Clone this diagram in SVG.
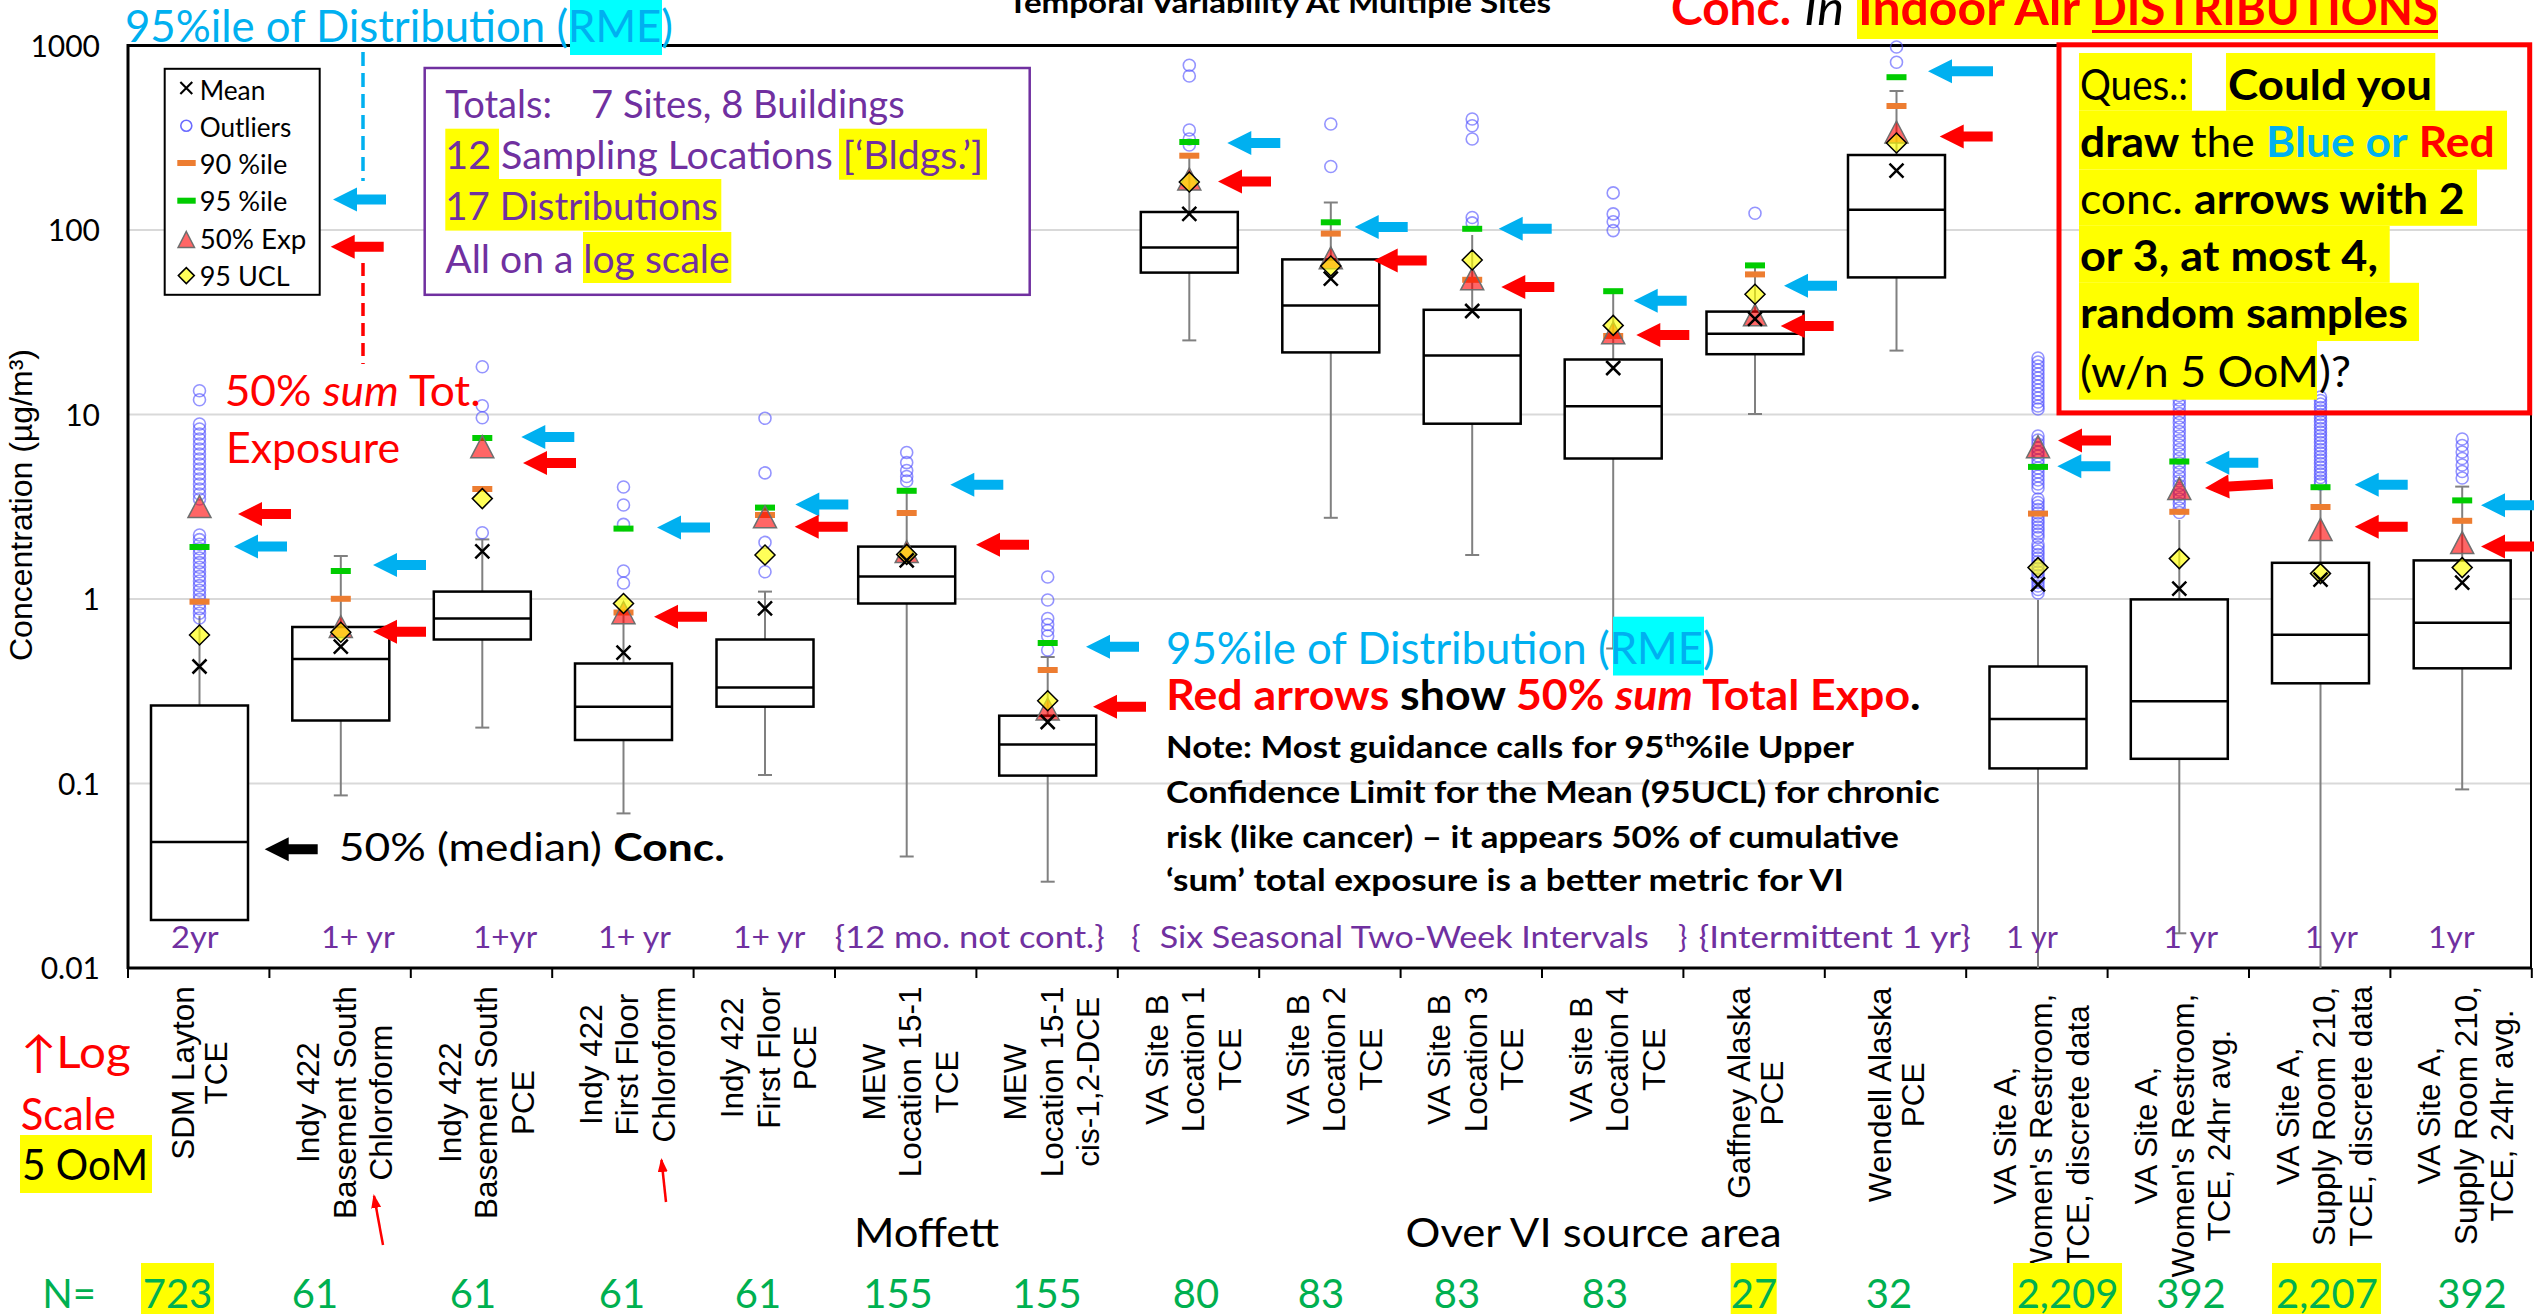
<svg xmlns="http://www.w3.org/2000/svg" width="2534" height="1314" viewBox="0 0 2534 1314">
<style>
.t{font-family:Lato,"Liberation Sans",Arial,sans-serif}
.a{font-family:"Liberation Sans",Arial,sans-serif}
.bx{fill:#fff;stroke:#000;stroke-width:2.5}
.md{stroke:#000;stroke-width:2.5}
.wh{stroke:#808080;stroke-width:2}
.gr{stroke:#d9d9d9;stroke-width:2}
.hl{fill:#ffff00}
.cy{fill:#00ffff}
.pu{fill:#7030A0}
.rd{fill:#ff0000}
.bl{fill:#00B0F0}
.gn{fill:#00B050}
.k{fill:#000}
.b{font-weight:bold}
.i{font-style:italic}
</style>
<defs>
<circle id="c" r="6" fill="none" stroke="#4d4dff" stroke-opacity="0.6" stroke-width="1.6"/>
<path id="mx" d="M-7,-7L7,7M7,-7L-7,7" stroke="#000" stroke-width="2.5"/>
<rect id="b90" x="-10" y="-3" width="20" height="6" fill="#ED7D31"/>
<rect id="b95" x="-10" y="-3" width="20" height="6" fill="#00CC00"/>
<path id="tr" d="M0,-12L11.5,10L-11.5,10Z" fill="#ff0000" fill-opacity="0.6" stroke="#6e6e6e" stroke-width="1.5"/>
<path id="dm" d="M0,-10L10,0L0,10L-10,0Z" fill="#ffff00" fill-opacity="0.65" stroke="#000" stroke-width="1.5"/>
<path id="ar" d="M0,0L24,-12L24,-5L53,-5L53,5L24,5L24,12Z"/>
<marker id="mh" markerWidth="14" markerHeight="10" refX="12" refY="5" orient="auto" markerUnits="userSpaceOnUse"><path d="M0,0L14,5L0,10Z" fill="#ff0000"/></marker>
</defs>
<rect width="2534" height="1314" fill="#fff"/>

<g id="plot">
<line class="gr" x1="128" y1="230" x2="2532" y2="230"/>
<line class="gr" x1="128" y1="414.5" x2="2532" y2="414.5"/>
<line class="gr" x1="128" y1="599" x2="2532" y2="599"/>
<line class="gr" x1="128" y1="783.5" x2="2532" y2="783.5"/>
<rect x="128" y="45.5" width="2403" height="922.5" fill="none" stroke="#000" stroke-width="2"/>
<line x1="128" y1="45.5" x2="2532" y2="45.5" stroke="#000" stroke-width="3"/>
<line x1="128" y1="44" x2="128" y2="969" stroke="#000" stroke-width="3"/>
<line x1="127" y1="968" x2="2532" y2="968" stroke="#000" stroke-width="3"/>
<path d="M128,968v10M269.4,968v10M410.8,968v10M552.2,968v10M693.6,968v10M835,968v10M976.4,968v10M1117.8,968v10M1259.2,968v10M1400.6,968v10M1542,968v10M1683.4,968v10M1824.8,968v10M1966.2,968v10M2107.6,968v10M2249,968v10M2390.4,968v10M2531.8,968v10" stroke="#000" stroke-width="2"/>
<g class="t" font-size="30" text-anchor="end">
<text x="100" y="56.5">1000</text>
<text x="100" y="241">100</text>
<text x="100" y="425.5">10</text>
<text x="100" y="610">1</text>
<text x="100" y="794.5">0.1</text>
<text x="100" y="979">0.01</text>
</g>
<text class="a" font-size="32" text-anchor="middle" textLength="312" lengthAdjust="spacingAndGlyphs" transform="translate(32,505) rotate(-90)">Concentration (µg/m³)</text>
</g>

<g id="box-0">
<line class="wh" x1="199.5" y1="616" x2="199.5" y2="705.5"/>
<rect class="bx" x="151" y="705.5" width="97" height="214.5"/>
<line class="md" x1="151" y1="842" x2="248" y2="842"/>
<g transform="translate(199.5,0)">
<use href="#c" y="390.7"/><use href="#c" y="399.7"/><use href="#c" y="424"/><use href="#c" y="429"/><use href="#c" y="434"/><use href="#c" y="439"/><use href="#c" y="444"/><use href="#c" y="449"/><use href="#c" y="454"/><use href="#c" y="459"/><use href="#c" y="464"/><use href="#c" y="469"/><use href="#c" y="474"/><use href="#c" y="479"/><use href="#c" y="484"/><use href="#c" y="489"/><use href="#c" y="494"/><use href="#c" y="499"/><use href="#c" y="535"/><use href="#c" y="539.6"/><use href="#c" y="544.2"/><use href="#c" y="548.8"/><use href="#c" y="553.4"/><use href="#c" y="558"/><use href="#c" y="562.6"/><use href="#c" y="567.2"/><use href="#c" y="571.8"/><use href="#c" y="576.4"/><use href="#c" y="581"/><use href="#c" y="585.6"/><use href="#c" y="590.2"/><use href="#c" y="594.8"/><use href="#c" y="599.4"/><use href="#c" y="604"/><use href="#c" y="608.6"/><use href="#c" y="613.2"/><use href="#c" y="618"/>
<use href="#mx" y="666.5"/><use href="#b90" y="601.7"/><use href="#b95" y="547"/><use href="#tr" y="507.6"/><use href="#dm" y="635"/>
</g></g>

<g id="box-1">
<line class="wh" x1="340.8" y1="556" x2="340.8" y2="795.4"/>
<line class="wh" x1="333.8" y1="556" x2="347.8" y2="556"/><line class="wh" x1="333.8" y1="795.4" x2="347.8" y2="795.4"/>
<rect class="bx" x="292.3" y="627" width="97" height="93.5"/>
<line class="md" x1="292.3" y1="659" x2="389.3" y2="659"/>
<g transform="translate(340.8,0)">
<use href="#b90" y="598.8"/><use href="#b95" y="571"/><use href="#tr" y="627.5"/><use href="#dm" y="632.3"/><use href="#mx" y="646.7"/>
</g></g>

<g id="box-2">
<line class="wh" x1="482.3" y1="539.4" x2="482.3" y2="727.6"/>
<line class="wh" x1="475.3" y1="539.4" x2="489.3" y2="539.4"/><line class="wh" x1="475.3" y1="727.6" x2="489.3" y2="727.6"/>
<rect class="bx" x="433.8" y="591.6" width="97" height="47.9"/>
<line class="md" x1="433.8" y1="618.5" x2="530.8" y2="618.5"/>
<g transform="translate(482.3,0)">
<use href="#c" y="366.7"/><use href="#c" y="405.7"/><use href="#c" y="417.7"/><use href="#c" y="532.8"/>
<use href="#mx" y="551.4"/><use href="#b90" y="489"/><use href="#b95" y="438"/><use href="#tr" y="447.7"/><use href="#dm" y="498.6"/>
</g></g>

<g id="box-3">
<line class="wh" x1="623.5" y1="612" x2="623.5" y2="813.4"/>
<line class="wh" x1="616.5" y1="813.4" x2="630.5" y2="813.4"/>
<rect class="bx" x="575" y="663.5" width="97" height="76.5"/>
<line class="md" x1="575" y1="706.7" x2="672" y2="706.7"/>
<g transform="translate(623.5,0)">
<use href="#c" y="487"/><use href="#c" y="505"/><use href="#c" y="524.4"/><use href="#c" y="571"/><use href="#c" y="583"/>
<use href="#mx" y="652.7"/><use href="#b90" y="612.5"/><use href="#b95" y="528.6"/><use href="#tr" y="613.7"/><use href="#dm" y="603.5"/>
</g></g>

<g id="box-4">
<line class="wh" x1="765" y1="591.6" x2="765" y2="775"/>
<line class="wh" x1="758" y1="591.6" x2="772" y2="591.6"/><line class="wh" x1="758" y1="775" x2="772" y2="775"/>
<rect class="bx" x="716.5" y="639.5" width="97" height="67.2"/>
<line class="md" x1="716.5" y1="687.5" x2="813.5" y2="687.5"/>
<g transform="translate(765,0)">
<use href="#c" y="418.3"/><use href="#c" y="472.9"/><use href="#c" y="542.4"/><use href="#c" y="571.8"/>
<use href="#mx" y="608.4"/><use href="#b90" y="515"/><use href="#b95" y="507.6"/><use href="#tr" y="517.8"/><use href="#dm" y="555"/>
</g></g>

<g id="box-5">
<line class="wh" x1="906.7" y1="491" x2="906.7" y2="856.5"/>
<line class="wh" x1="899.7" y1="856.5" x2="913.7" y2="856.5"/>
<rect class="bx" x="858.2" y="546.6" width="97" height="56.9"/>
<line class="md" x1="858.2" y1="576.6" x2="955.2" y2="576.6"/>
<g transform="translate(906.7,0)">
<use href="#c" y="452.5"/><use href="#c" y="462.6"/><use href="#c" y="470.5"/><use href="#c" y="476.5"/><use href="#c" y="481"/>
<use href="#b90" y="513"/><use href="#b95" y="490.8"/><use href="#tr" y="552.6"/><use href="#dm" y="554.4"/><use href="#mx" y="560.4"/>
</g></g>

<g id="box-6">
<line class="wh" x1="1047.7" y1="657" x2="1047.7" y2="881.7"/>
<line class="wh" x1="1040.7" y1="657" x2="1054.7" y2="657"/><line class="wh" x1="1040.7" y1="881.7" x2="1054.7" y2="881.7"/>
<rect class="bx" x="999.2" y="715.7" width="97" height="59.9"/>
<line class="md" x1="999.2" y1="744.4" x2="1096.2" y2="744.4"/>
<g transform="translate(1047.7,0)">
<use href="#c" y="577"/><use href="#c" y="600"/><use href="#c" y="618.5"/><use href="#c" y="624.5"/><use href="#c" y="630.5"/><use href="#c" y="636"/><use href="#c" y="650"/>
<use href="#b90" y="670"/><use href="#b95" y="643"/><use href="#tr" y="710"/><use href="#dm" y="700.7"/><use href="#mx" y="722"/>
</g></g>

<g id="box-7">
<line class="wh" x1="1189.3" y1="156" x2="1189.3" y2="340.4"/>
<line class="wh" x1="1182.3" y1="340.4" x2="1196.3" y2="340.4"/>
<rect class="bx" x="1140.8" y="212" width="97" height="60.6"/>
<line class="md" x1="1140.8" y1="247.4" x2="1237.8" y2="247.4"/>
<g transform="translate(1189.3,0)">
<use href="#c" y="65.2"/><use href="#c" y="76"/><use href="#c" y="130"/><use href="#c" y="139"/><use href="#c" y="145"/>
<use href="#b90" y="155.7"/><use href="#b95" y="142"/><use href="#tr" y="180"/><use href="#dm" y="182"/><use href="#mx" y="213.9"/>
</g></g>

<g id="box-8">
<line class="wh" x1="1330.8" y1="202.5" x2="1330.8" y2="517.8"/>
<line class="wh" x1="1323.8" y1="202.5" x2="1337.8" y2="202.5"/><line class="wh" x1="1323.8" y1="517.8" x2="1337.8" y2="517.8"/>
<rect class="bx" x="1282.3" y="259.4" width="97" height="93"/>
<line class="md" x1="1282.3" y1="305.6" x2="1379.3" y2="305.6"/>
<g transform="translate(1330.8,0)">
<use href="#c" y="124"/><use href="#c" y="166.5"/>
<use href="#b90" y="233.6"/><use href="#b95" y="222.3"/><use href="#tr" y="258.8"/><use href="#dm" y="266"/><use href="#mx" y="278.6"/>
</g></g>

<g id="box-9">
<line class="wh" x1="1472.2" y1="235" x2="1472.2" y2="555"/>
<line class="wh" x1="1465.2" y1="555" x2="1479.2" y2="555"/>
<rect class="bx" x="1423.7" y="309.8" width="97" height="113.9"/>
<line class="md" x1="1423.7" y1="355.4" x2="1520.7" y2="355.4"/>
<g transform="translate(1472.2,0)">
<use href="#c" y="119"/><use href="#c" y="125.7"/><use href="#c" y="139"/><use href="#c" y="217.5"/><use href="#c" y="222.9"/>
<use href="#b90" y="279.8"/><use href="#b95" y="228.8"/><use href="#tr" y="279.8"/><use href="#dm" y="260"/><use href="#mx" y="311"/>
</g></g>

<g id="box-10">
<line class="wh" x1="1613.2" y1="291" x2="1613.2" y2="648.5"/>
<line class="wh" x1="1606.2" y1="648.5" x2="1620.2" y2="648.5"/>
<rect class="bx" x="1564.7" y="359.5" width="97" height="99"/>
<line class="md" x1="1564.7" y1="406.3" x2="1661.7" y2="406.3"/>
<g transform="translate(1613.2,0)">
<use href="#c" y="192.9"/><use href="#c" y="213.9"/><use href="#c" y="221.7"/><use href="#c" y="230.6"/>
<use href="#b90" y="336"/><use href="#b95" y="291.2"/><use href="#tr" y="333.8"/><use href="#dm" y="325.4"/><use href="#mx" y="368"/>
</g></g>

<g id="box-11">
<line class="wh" x1="1755" y1="268" x2="1755" y2="414"/>
<line class="wh" x1="1748" y1="414" x2="1762" y2="414"/>
<rect class="bx" x="1706.5" y="311.6" width="97" height="42.6"/>
<line class="md" x1="1706.5" y1="333.8" x2="1803.5" y2="333.8"/>
<g transform="translate(1755,0)">
<use href="#c" y="213.3"/>
<use href="#b90" y="274.4"/><use href="#b95" y="265.4"/><use href="#tr" y="315.8"/><use href="#dm" y="294.2"/><use href="#mx" y="318.8"/>
</g></g>

<g id="box-12">
<line class="wh" x1="1896.5" y1="91" x2="1896.5" y2="350.6"/>
<line class="wh" x1="1889.5" y1="91" x2="1903.5" y2="91"/><line class="wh" x1="1889.5" y1="350.6" x2="1903.5" y2="350.6"/>
<rect class="bx" x="1848" y="155" width="97" height="122.4"/>
<line class="md" x1="1848" y1="209.7" x2="1945" y2="209.7"/>
<g transform="translate(1896.5,0)">
<use href="#c" y="47"/><use href="#c" y="62.2"/>
<use href="#b90" y="106"/><use href="#b95" y="77.2"/><use href="#tr" y="133"/><use href="#dm" y="143"/><use href="#mx" y="170.7"/>
</g></g>

<g id="box-13">
<line class="wh" x1="2038" y1="600" x2="2038" y2="968"/>
<rect class="bx" x="1989.5" y="666.5" width="97" height="101.9"/>
<line class="md" x1="1989.5" y1="719" x2="2086.5" y2="719"/>
<g transform="translate(2038,0)">
<use href="#c" y="358"/><use href="#c" y="362"/><use href="#c" y="366"/><use href="#c" y="370"/><use href="#c" y="374"/><use href="#c" y="378"/><use href="#c" y="382"/><use href="#c" y="386"/><use href="#c" y="390"/><use href="#c" y="394"/><use href="#c" y="398"/><use href="#c" y="402"/><use href="#c" y="406"/><use href="#c" y="409"/>
<use href="#c" y="436"/><use href="#c" y="440"/><use href="#c" y="444"/><use href="#c" y="448"/><use href="#c" y="452"/><use href="#c" y="456"/><use href="#c" y="460"/><use href="#c" y="464"/><use href="#c" y="468"/><use href="#c" y="472"/><use href="#c" y="476"/><use href="#c" y="480"/><use href="#c" y="484"/><use href="#c" y="488"/>
<use href="#c" y="499"/><use href="#c" y="502.5"/><use href="#c" y="506"/><use href="#c" y="509.5"/><use href="#c" y="513"/><use href="#c" y="516.5"/><use href="#c" y="520"/><use href="#c" y="523.5"/><use href="#c" y="527"/><use href="#c" y="530.5"/><use href="#c" y="534"/><use href="#c" y="537.5"/>
<use href="#c" y="544"/><use href="#c" y="547.5"/><use href="#c" y="551"/><use href="#c" y="554.5"/><use href="#c" y="558"/><use href="#c" y="561.5"/><use href="#c" y="565"/><use href="#c" y="568.5"/><use href="#c" y="572"/><use href="#c" y="575.5"/><use href="#c" y="579"/><use href="#c" y="582.5"/><use href="#c" y="586"/><use href="#c" y="589.5"/><use href="#c" y="593"/>
<use href="#b90" y="513.6"/><use href="#b95" y="466.9"/><use href="#tr" y="447.7"/><use href="#dm" y="567.6"/><use href="#mx" y="584.4"/>
</g></g>

<g id="box-14">
<line class="wh" x1="2179.3" y1="520" x2="2179.3" y2="933.3"/>
<line class="wh" x1="2172.3" y1="933.3" x2="2186.3" y2="933.3"/>
<rect class="bx" x="2130.8" y="599.4" width="97" height="159.4"/>
<line class="md" x1="2130.8" y1="701.3" x2="2227.8" y2="701.3"/>
<g transform="translate(2179.3,0)">
<use href="#c" y="364"/><use href="#c" y="368.5"/><use href="#c" y="373"/><use href="#c" y="377.5"/><use href="#c" y="382"/><use href="#c" y="386.5"/><use href="#c" y="391"/><use href="#c" y="395.5"/><use href="#c" y="400"/><use href="#c" y="404.5"/><use href="#c" y="409"/><use href="#c" y="413.5"/><use href="#c" y="418"/><use href="#c" y="422.5"/><use href="#c" y="427"/><use href="#c" y="431.5"/><use href="#c" y="436"/><use href="#c" y="440.5"/><use href="#c" y="445"/><use href="#c" y="449.5"/><use href="#c" y="454"/><use href="#c" y="458.5"/><use href="#c" y="463"/><use href="#c" y="467.5"/><use href="#c" y="472"/><use href="#c" y="476.5"/><use href="#c" y="481"/><use href="#c" y="485.5"/><use href="#c" y="490"/><use href="#c" y="494.5"/><use href="#c" y="499"/><use href="#c" y="503.5"/><use href="#c" y="508"/><use href="#c" y="512.5"/>
<use href="#b90" y="511.8"/><use href="#b95" y="461.5"/><use href="#tr" y="489.6"/><use href="#dm" y="558.6"/><use href="#mx" y="588.6"/>
</g></g>

<g id="box-15">
<line class="wh" x1="2320.5" y1="490" x2="2320.5" y2="968"/>
<rect class="bx" x="2272" y="562.8" width="97" height="120.5"/>
<line class="md" x1="2272" y1="634.7" x2="2369" y2="634.7"/>
<g transform="translate(2320.5,0)">
<use href="#c" y="397"/><use href="#c" y="400.5"/><use href="#c" y="404"/><use href="#c" y="407.5"/><use href="#c" y="411"/><use href="#c" y="414.5"/><use href="#c" y="418"/><use href="#c" y="421.5"/><use href="#c" y="425"/><use href="#c" y="428.5"/><use href="#c" y="432"/><use href="#c" y="435.5"/><use href="#c" y="439"/><use href="#c" y="442.5"/><use href="#c" y="446"/><use href="#c" y="449.5"/><use href="#c" y="453"/><use href="#c" y="456.5"/><use href="#c" y="460"/><use href="#c" y="463.5"/><use href="#c" y="467"/><use href="#c" y="470.5"/><use href="#c" y="474"/><use href="#c" y="477.5"/><use href="#c" y="481"/><use href="#c" y="484"/>
<use href="#b90" y="507"/><use href="#b95" y="487.2"/><use href="#tr" y="530.4"/><use href="#dm" y="573.6"/><use href="#mx" y="579.6"/>
</g></g>

<g id="box-16">
<line class="wh" x1="2462.2" y1="486.6" x2="2462.2" y2="789.4"/>
<line class="wh" x1="2455.2" y1="486.6" x2="2469.2" y2="486.6"/><line class="wh" x1="2455.2" y1="789.4" x2="2469.2" y2="789.4"/>
<rect class="bx" x="2413.7" y="560.4" width="97" height="107.9"/>
<line class="md" x1="2413.7" y1="622.7" x2="2510.7" y2="622.7"/>
<g transform="translate(2462.2,0)">
<use href="#c" y="439"/><use href="#c" y="445.5"/><use href="#c" y="452"/><use href="#c" y="458.5"/><use href="#c" y="465"/><use href="#c" y="471.5"/><use href="#c" y="478"/>
<use href="#b90" y="520.8"/><use href="#b95" y="500.4"/><use href="#tr" y="543.6"/><use href="#dm" y="567.6"/><use href="#mx" y="582.6"/>
</g></g>

<g id="connectors">
<line x1="363" y1="52" x2="363" y2="181" stroke="#00B0F0" stroke-width="3.5" stroke-dasharray="14 7"/>
<line x1="363" y1="263" x2="363" y2="364" stroke="#ff0000" stroke-width="3.5" stroke-dasharray="13 7"/>
<g fill="#00B0F0">
<use href="#ar" x="333" y="199.5"/><use href="#ar" x="234" y="546.6"/><use href="#ar" x="373" y="565"/><use href="#ar" x="521.3" y="437"/><use href="#ar" x="657" y="527.4"/><use href="#ar" x="795.3" y="504.6"/><use href="#ar" x="950.3" y="484.8"/><use href="#ar" x="1086" y="646.7"/><use href="#ar" x="1227.3" y="143"/><use href="#ar" x="1354.7" y="227"/><use href="#ar" x="1498.7" y="228.8"/><use href="#ar" x="1633.7" y="300.8"/><use href="#ar" x="1784" y="285.8"/><use href="#ar" x="2057.3" y="466.3"/><use href="#ar" x="2205.3" y="462.7"/><use href="#ar" x="2354.7" y="484.8"/><use href="#ar" x="2481" y="505.2"/>
<path d="M1928,71.2l24,-12v7h41v10h-41v7z"/>
</g>
<g fill="#ff0000">
<use href="#ar" x="330.7" y="246.8"/><use href="#ar" x="238" y="514"/><use href="#ar" x="373" y="631.7"/><use href="#ar" x="523" y="463"/><use href="#ar" x="654" y="616.7"/><use href="#ar" x="794.7" y="526.8"/><use href="#ar" x="976" y="544.8"/><use href="#ar" x="1093" y="706.7"/><use href="#ar" x="1218" y="181.5"/><use href="#ar" x="1373.7" y="260.6"/><use href="#ar" x="1501.3" y="287"/><use href="#ar" x="1636.3" y="335"/><use href="#ar" x="1780.7" y="326"/><use href="#ar" x="1939.7" y="136.5"/><use href="#ar" x="2058" y="440.5"/><use href="#ar" x="2354.7" y="526.8"/><use href="#ar" x="2481" y="546.6"/>
<path d="M2205,488l24,-12v7h44v10h-44v7z" transform="rotate(-3.4 2205 488)"/>
</g>
<use href="#ar" x="264.7" y="849.3" fill="#000"/>
<line x1="383" y1="1245" x2="374" y2="1196" stroke="#ff0000" stroke-width="2.5" marker-end="url(#mh)"/>
<line x1="666" y1="1202" x2="661.5" y2="1160" stroke="#ff0000" stroke-width="2.5" marker-end="url(#mh)"/>
</g>

<g id="legend">
<rect x="164.7" y="68.8" width="155" height="226" fill="#fff" stroke="#000" stroke-width="2"/>
<use href="#mx" x="186.3" y="88" transform="translate(186.3,88) scale(0.85) translate(-186.3,-88)"/>
<circle cx="186.3" cy="125.7" r="5.5" fill="none" stroke="#6b6bff" stroke-width="1.6"/>
<rect x="177.3" y="160" width="18.4" height="6" fill="#ED7D31"/>
<rect x="177.3" y="197.7" width="18.4" height="6" fill="#00CC00"/>
<path d="M186.3,231.5L194.5,247.5L178.1,247.5Z" fill="#ff0000" fill-opacity="0.6" stroke="#6e6e6e" stroke-width="1.5"/>
<path d="M186.3,267.6L194.3,275.6L186.3,283.6L178.3,275.6Z" fill="#ffff00" fill-opacity="0.65" stroke="#000" stroke-width="1.5"/>
<g class="t" font-size="27">
<text x="199.7" y="100" textLength="65.7" lengthAdjust="spacingAndGlyphs">Mean</text>
<text x="199.7" y="136.5" textLength="91.7" lengthAdjust="spacingAndGlyphs">Outliers</text>
<text x="199.7" y="173.5" textLength="87.7" lengthAdjust="spacingAndGlyphs">90 %ile</text>
<text x="199.7" y="211" textLength="87.7" lengthAdjust="spacingAndGlyphs">95 %ile</text>
<text x="199.7" y="248.6" textLength="106.7" lengthAdjust="spacingAndGlyphs">50% Exp</text>
<text x="199.7" y="286" textLength="90" lengthAdjust="spacingAndGlyphs">95 UCL</text>
</g>
</g>

<g id="totals-box">
<rect x="424.7" y="68" width="605" height="226.8" fill="#fff" stroke="#7030A0" stroke-width="2.5"/>
<rect class="hl" x="445.3" y="128.7" width="53.7" height="50.5"/>
<rect class="hl" x="839" y="128.7" width="148" height="51"/>
<rect class="hl" x="445.3" y="179" width="276" height="51.6"/>
<rect class="hl" x="583" y="232" width="148.3" height="51"/>
<g class="t pu" font-size="38">
<text x="445.3" y="118" textLength="459.4" lengthAdjust="spacingAndGlyphs">Totals:&#160;&#160;&#160; 7 Sites, 8 Buildings</text>
<text x="445.3" y="169" textLength="537.7" lengthAdjust="spacingAndGlyphs">12 Sampling Locations [‘Bldgs.’]</text>
<text x="445.3" y="220" textLength="272.7" lengthAdjust="spacingAndGlyphs">17 Distributions</text>
<text x="445.3" y="272.6" textLength="284.4" lengthAdjust="spacingAndGlyphs">All on a log scale</text>
</g>
</g>

<g id="rme-top">
<rect class="cy" x="570" y="0" width="92" height="55"/>
<text class="t bl" font-size="44" x="125" y="42" textLength="548" lengthAdjust="spacingAndGlyphs">95%ile of Distribution (RME)</text>
</g>

<g id="sum-label">
<text class="t rd" font-size="42" x="224.7" y="405.7" textLength="256" lengthAdjust="spacingAndGlyphs">50% <tspan class="i">sum</tspan> Tot.</text>
<text class="t rd" font-size="42" x="226" y="462.7" textLength="174" lengthAdjust="spacingAndGlyphs">Exposure</text>
</g>

<g id="median-label">
<text class="t k" font-size="38" x="338.7" y="861.3" textLength="386" lengthAdjust="spacingAndGlyphs">50% (median) <tspan class="b">Conc.</tspan></text>
</g>

<g id="note-block">
<rect class="cy" x="1613" y="616.7" width="91" height="58.8"/>
<text class="t bl" font-size="44" x="1166" y="663.5" textLength="548.7" lengthAdjust="spacingAndGlyphs">95%ile of Distribution (RME)</text>
<text class="t b rd" font-size="42" x="1166.3" y="710.3" textLength="754.4" lengthAdjust="spacingAndGlyphs">Red arrows<tspan class="k"> show </tspan>50% <tspan class="i">sum</tspan> Total Expo<tspan class="k">.</tspan></text>
<g class="t b k" font-size="30">
<text x="1166" y="758.2" textLength="688" lengthAdjust="spacingAndGlyphs">Note: Most guidance calls for 95<tspan font-size="19" dy="-11">th</tspan><tspan dy="11">%ile Upper</tspan></text>
<text x="1166" y="803.2" textLength="773.7" lengthAdjust="spacingAndGlyphs">Confidence Limit for the Mean (95UCL) for chronic</text>
<text x="1166" y="848.2" textLength="733" lengthAdjust="spacingAndGlyphs">risk (like cancer) – it appears 50% of cumulative</text>
<text x="1166" y="891.3" textLength="678" lengthAdjust="spacingAndGlyphs">‘sum’ total exposure is a better metric for VI</text>
</g>
</g>

<g id="periods" class="t pu" font-size="31">
<text x="171" y="948" textLength="47.7" lengthAdjust="spacingAndGlyphs">2yr</text>
<text x="321" y="948" textLength="73.7" lengthAdjust="spacingAndGlyphs">1+ yr</text>
<text x="473" y="948" textLength="64.3" lengthAdjust="spacingAndGlyphs">1+yr</text>
<text x="598" y="948" textLength="73" lengthAdjust="spacingAndGlyphs">1+ yr</text>
<text x="733" y="948" textLength="72.3" lengthAdjust="spacingAndGlyphs">1+ yr</text>
<text x="834.7" y="948" textLength="270" lengthAdjust="spacingAndGlyphs">{12 mo. not cont.}</text>
<text x="1131.3" y="948">{</text>
<text x="1159.7" y="948" textLength="489" lengthAdjust="spacingAndGlyphs">Six Seasonal Two-Week Intervals</text>
<text x="1678" y="948">}</text>
<text x="1698.7" y="948" textLength="272" lengthAdjust="spacingAndGlyphs">{Intermittent 1 yr}</text>
<text x="2006" y="948" textLength="52" lengthAdjust="spacingAndGlyphs">1 yr</text>
<text x="2163" y="948" textLength="55" lengthAdjust="spacingAndGlyphs">1 yr</text>
<text x="2304.7" y="948" textLength="53.3" lengthAdjust="spacingAndGlyphs">1 yr</text>
<text x="2428" y="948" textLength="46.7" lengthAdjust="spacingAndGlyphs">1yr</text>
</g>

<g id="title">
<text class="t b k" font-size="28" x="1008" y="13" textLength="543" lengthAdjust="spacingAndGlyphs">Temporal Variability At Multiple Sites</text>
<rect class="hl" x="1857" y="0" width="581" height="39"/>
<text class="t b rd" font-size="48" x="1671" y="25" textLength="120" lengthAdjust="spacingAndGlyphs">Conc.</text>
<text class="t i k" font-size="48" x="1804" y="25" textLength="40" lengthAdjust="spacingAndGlyphs">In</text>
<text class="t b rd" font-size="48" x="1858" y="25" textLength="222" lengthAdjust="spacingAndGlyphs">Indoor Air</text>
<text class="t b rd" font-size="48" x="2092" y="25" textLength="346" lengthAdjust="spacingAndGlyphs">DISTRIBUTIONS</text>
<rect x="2092" y="30" width="346" height="3" fill="#ff0000"/>
</g>

<g id="question-box">
<rect x="2059" y="44.8" width="470.7" height="368.1" fill="none" stroke="#ff0000" stroke-width="5"/>
<rect class="hl" x="2079" y="53" width="113" height="57.7"/>
<rect class="hl" x="2226" y="53" width="209.3" height="57.7"/>
<rect class="hl" x="2079" y="110.7" width="428" height="58.8"/>
<rect class="hl" x="2079" y="169.5" width="398" height="56.3"/>
<rect class="hl" x="2079" y="225.8" width="310.7" height="57"/>
<rect class="hl" x="2079" y="282.8" width="340" height="58.2"/>
<rect class="hl" x="2079" y="341" width="238" height="58.7"/>
<g class="t k" font-size="42">
<text x="2080" y="100" textLength="108" lengthAdjust="spacingAndGlyphs">Ques.:</text>
<text class="b" x="2228" y="100" textLength="204" lengthAdjust="spacingAndGlyphs">Could you</text>
<text x="2080" y="157" textLength="414.7" lengthAdjust="spacingAndGlyphs"><tspan class="b">draw</tspan> the <tspan class="b bl">Blue or</tspan> <tspan class="b rd">Red</tspan></text>
<text x="2080" y="214" textLength="384.7" lengthAdjust="spacingAndGlyphs">conc. <tspan class="b">arrows with 2</tspan></text>
<text class="b" x="2080" y="271" textLength="298" lengthAdjust="spacingAndGlyphs">or 3, at most 4,</text>
<text class="b" x="2080" y="328" textLength="328" lengthAdjust="spacingAndGlyphs">random samples</text>
<text x="2080" y="386.5" textLength="271" lengthAdjust="spacingAndGlyphs">(w/n 5 OoM)?</text>
</g>
</g>

<g id="categories" class="a" font-size="31.5" text-anchor="middle">
<text transform="translate(194.2,1073) rotate(-90)">SDM Layton</text>
<text transform="translate(227.2,1073) rotate(-90)">TCE</text>
<text transform="translate(319.1,1102.6) rotate(-90)">Indy 422</text>
<text transform="translate(355.6,1102.6) rotate(-90)">Basement South</text>
<text transform="translate(392.1,1102.6) rotate(-90)">Chloroform</text>
<text transform="translate(460.5,1102.6) rotate(-90)">Indy 422</text>
<text transform="translate(497,1102.6) rotate(-90)">Basement South</text>
<text transform="translate(533.5,1102.6) rotate(-90)">PCE</text>
<text transform="translate(601.9,1064.7) rotate(-90)">Indy 422</text>
<text transform="translate(638.4,1064.7) rotate(-90)">First Floor</text>
<text transform="translate(674.9,1064.7) rotate(-90)">Chloroform</text>
<text transform="translate(743.3,1057.8) rotate(-90)">Indy 422</text>
<text transform="translate(779.8,1057.8) rotate(-90)">First Floor</text>
<text transform="translate(816.3,1057.8) rotate(-90)">PCE</text>
<text transform="translate(884.7,1081.9) rotate(-90)">MEW</text>
<text transform="translate(921.2,1081.9) rotate(-90)">Location 15-1</text>
<text transform="translate(957.7,1081.9) rotate(-90)">TCE</text>
<text transform="translate(1026.1,1081.9) rotate(-90)">MEW</text>
<text transform="translate(1062.6,1081.9) rotate(-90)">Location 15-1</text>
<text transform="translate(1099.1,1081.9) rotate(-90)">cis-1,2-DCE</text>
<text transform="translate(1167.5,1059.5) rotate(-90)">VA Site B</text>
<text transform="translate(1204,1059.5) rotate(-90)">Location 1</text>
<text transform="translate(1240.5,1059.5) rotate(-90)">TCE</text>
<text transform="translate(1308.9,1059.5) rotate(-90)">VA Site B</text>
<text transform="translate(1345.4,1059.5) rotate(-90)">Location 2</text>
<text transform="translate(1381.9,1059.5) rotate(-90)">TCE</text>
<text transform="translate(1450.3,1059.5) rotate(-90)">VA Site B</text>
<text transform="translate(1486.8,1059.5) rotate(-90)">Location 3</text>
<text transform="translate(1523.3,1059.5) rotate(-90)">TCE</text>
<text transform="translate(1591.7,1059.5) rotate(-90)">VA site B</text>
<text transform="translate(1628.2,1059.5) rotate(-90)">Location 4</text>
<text transform="translate(1664.7,1059.5) rotate(-90)">TCE</text>
<text transform="translate(1749.6,1093) rotate(-90)">Gaffney Alaska</text>
<text transform="translate(1782.6,1093) rotate(-90)">PCE</text>
<text transform="translate(1891,1094.8) rotate(-90)">Wendell Alaska</text>
<text transform="translate(1924,1094.8) rotate(-90)">PCE</text>
<text transform="translate(2015.9,1135.6) rotate(-90)">VA Site A,</text>
<text transform="translate(2052.4,1135.6) rotate(-90)">Women's Restroom,</text>
<text transform="translate(2088.9,1135.6) rotate(-90)">TCE, discrete data</text>
<text transform="translate(2157.3,1135.6) rotate(-90)">VA Site A,</text>
<text transform="translate(2193.8,1135.6) rotate(-90)">Women's Restroom,</text>
<text transform="translate(2230.3,1135.6) rotate(-90)">TCE, 24hr avg.</text>
<text transform="translate(2298.7,1116.4) rotate(-90)">VA Site A,</text>
<text transform="translate(2335.2,1116.4) rotate(-90)">Supply Room 210,</text>
<text transform="translate(2371.7,1116.4) rotate(-90)">TCE, discrete data</text>
<text transform="translate(2440.1,1115.5) rotate(-90)">VA Site A,</text>
<text transform="translate(2476.6,1115.5) rotate(-90)">Supply Room 210,</text>
<text transform="translate(2513.1,1115.5) rotate(-90)">TCE, 24hr avg.</text>
</g>

<g id="side-notes">
<text class="t rd" font-size="44" x="20.7" y="1068" textLength="110" lengthAdjust="spacingAndGlyphs">↑Log</text>
<text class="t rd" font-size="44" x="20.7" y="1130" textLength="95" lengthAdjust="spacingAndGlyphs">Scale</text>
<rect class="hl" x="20" y="1135" width="132" height="58"/>
<text class="t k" font-size="42" x="22" y="1180" textLength="126" lengthAdjust="spacingAndGlyphs">5 OoM</text>
<text class="t k" font-size="40" x="854" y="1246.7" textLength="145" lengthAdjust="spacingAndGlyphs">Moffett</text>
<text class="t k" font-size="40" x="1405.6" y="1246.7" textLength="376" lengthAdjust="spacingAndGlyphs">Over VI source area</text>
</g>

<g id="n-row">
<rect class="hl" x="141" y="1263" width="73" height="51"/>
<rect class="hl" x="1730.7" y="1263" width="46" height="51"/>
<rect class="hl" x="2013" y="1263" width="109" height="51"/>
<rect class="hl" x="2272" y="1263" width="109" height="51"/>
<g class="t gn" font-size="40" text-anchor="middle">
<text x="69" y="1308">N=</text>
<text x="177.5" y="1308">723</text>
<text x="315" y="1308">61</text>
<text x="473" y="1308">61</text>
<text x="622" y="1308">61</text>
<text x="758" y="1308">61</text>
<text x="898" y="1308">155</text>
<text x="1047" y="1308">155</text>
<text x="1196" y="1308">80</text>
<text x="1321" y="1308">83</text>
<text x="1457" y="1308">83</text>
<text x="1605" y="1308">83</text>
<text x="1754" y="1308">27</text>
<text x="1889" y="1308">32</text>
<text x="2067.6" y="1308">2,209</text>
<text x="2191" y="1308">392</text>
<text x="2327" y="1308">2,207</text>
<text x="2472" y="1308">392</text>
</g>
</g>
</svg>
